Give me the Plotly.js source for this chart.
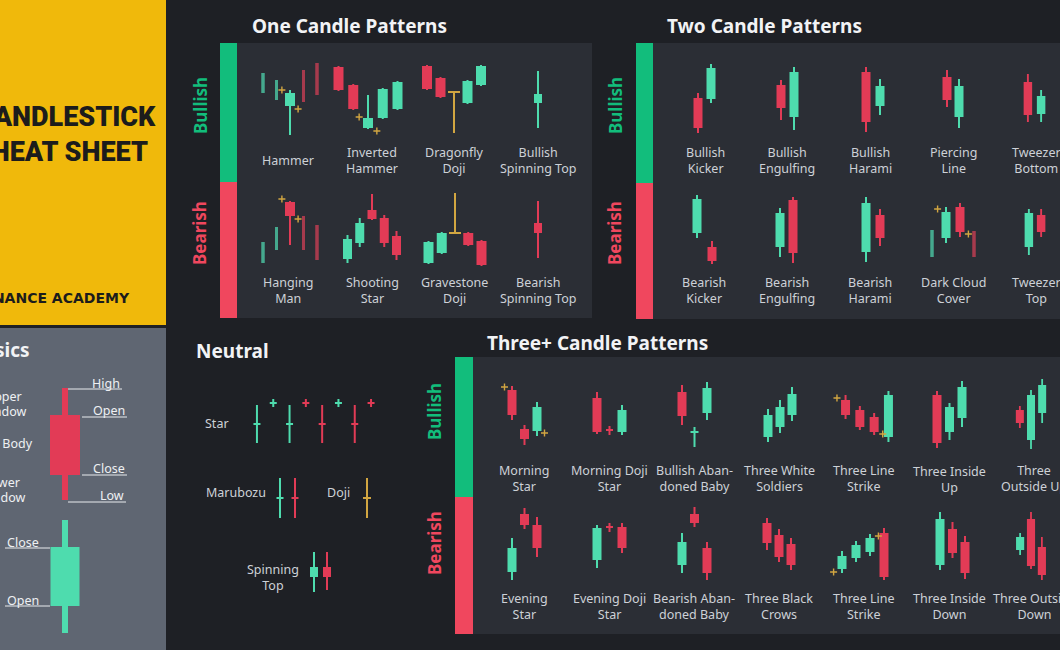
<!DOCTYPE html>
<html><head><meta charset="utf-8">
<script src="https://cdn.plot.ly/plotly-3.0.1.min.js"></script>
<style>html,body{margin:0;padding:0;background:#1e2025;}#chart{width:1060px;height:650px;}</style>
</head><body><div id="chart"></div>
<script>
// ===== DATA =====  each candle: [open, high, low, close, kind]
// kind: 'n' normal (default), 't' thin context candle, 'dy' yellow doji, 'dr' red doji, 'dg' green doji
// marks: [candle index, side (-1 left / +1 right), price]
const hammer = [[47,67,47,67,'t'],[40,60,40,60,'t'],[34,50,5,47],[70,70,38,38,'t'],[77,77,45,45,'t']];
const hammerMarks = [[2,-1,50],[2,1,31]];
const invertedHammer = [[73,74,49,50],[55,56,30,31],[12,45,11,22],[22,52,21,51],[31,59,30,58]];
const invertedHammerMarks = [[2,-1,23],[2,1,9]];
const dragonflyDoji = [[74,75,50,51],[62,63,42,43],[48,48,7,48,'dy'],[37,60,36,59],[55,75,54,74]];
const bullishSpinningTop = [[37,69,12,46]];
const hangingMan = [[7,28,7,28,'t'],[20,43,20,43,'t'],[68,69,25,54],[54,54,20,20,'t'],[45,45,10,10,'t']];
const hangingManMarks = [[2,-1,71],[2,1,51]];
const shootingStar = [[11,35,7,31],[27,52,23,47],[60,76,50,51],[52,55,23,27],[34,39,10,15]];
const gravestoneDoji = [[7,29,6,28],[17,38,16,37],[37,77,37,37,'dy'],[37,38,24,25],[29,30,4,5]];
const bearishSpinningTop = [[47,69,12,37]];

const bullishKicker = [[42,47,7,12],[41,76,37,72]];
const bullishEngulfing = [[55,60,20,32],[23,73,10,68]];
const bullishHarami = [[68,73,8,18],[34,61,25,54]];
const piercingLine = [[63,70,33,40],[23,61,12,54]];
const tweezerBottom = [[58,66,18,25],[26,50,18,44]];
const bearishKicker = [[37,75,32,71],[23,29,6,9]];
const bearishEngulfing = [[23,62,13,57],[70,73,7,17]];
const bearishHarami = [[18,73,8,67],[55,61,24,32]];
const darkCloudCover = [[13,40,13,40,'t'],[32,63,27,58],[63,67,33,38],[39,39,13,13,'t']];
const darkCloudCoverMarks = [[1,-1,61],[2,1,36]];
const tweezerTop = [[23,61,15,57],[55,61,33,38]];

const morningStar = [[65,69,35,40],[26,30,10,16],[24,53,19,48]];
const morningStarMarks = [[0,-1,68],[2,1,22]];
const morningDojiStar = [[57,63,21,23],[25,29,20,25,'dr'],[23,50,20,45]];
const bullishAbandonedBaby = [[63,70,30,39],[23,28,8,23,'dg'],[42,73,35,67]];
const threeWhiteSoldiers = [[18,46,13,40],[28,55,22,48],[40,68,34,61]];
const threeLineStrikeBull = [[55,60,36,40],[45,49,25,28],[38,42,20,23],[18,64,13,60]];
const threeLineStrikeBullMarks = [[0,-1,57],[2,1,21]];
const threeInsideUp = [[60,64,7,12],[23,52,15,48],[37,74,28,68]];
const threeOutsideUp = [[45,49,27,32],[15,65,6,60],[42,76,32,70]];
const eveningStar = [[13,47,5,37],[71,77,56,60],[60,68,28,37]];
const eveningDojiStar = [[25,60,17,57],[58,62,53,58,'dr'],[58,62,32,37]];
const bearishAbandonedBaby = [[20,52,12,43],[71,78,58,62],[37,43,5,12]];
const threeBlackCrows = [[62,67,35,42],[50,56,23,28],[41,47,15,20]];
const threeLineStrikeBear = [[16,34,12,29],[27,44,23,40],[33,51,29,47],[52,57,5,8]];
const threeLineStrikeBearMarks = [[0,-1,13],[2,1,49]];
const threeInsideDown = [[20,73,15,66],[56,63,27,32],[43,49,6,12]];
const threeOutsideDown = [[35,52,30,48],[66,73,16,19],[38,48,5,10]];

const starPattern = [[30,50,12,32],[52,56,48,52,'dg'],[30,50,12,32],[52,56,48,52,'dr'],[32,50,12,30],[52,56,48,52,'dg'],[32,50,12,30],[52,56,48,52,'dr']];
const marubozu = [[26,47,7,28],[28,47,7,26]];
const dojiPattern = [[27,47,7,27,'dy']];
const spinningTop = [[23,48,8,33],[33,48,10,23]];
const basicsBearish = [[95,122,10,35]];
const basicsBullish = [[34,120,7,93]];

// ===== STYLE / LAYOUT =====
const W = 1060, H = 650;
const px = x => x / W, py = y => 1 - y / H;
const GREEN = '#4edcae', RED = '#e23b56', YEL = '#d2a641';
const GREEN_DIM = '#45a98e', RED_DIM = '#a73a4d';
const BAR_G = '#12bd7c', BAR_R = '#f0475e';
const TXT = '#cdd1d7';
const FONT = 'Noto Sans';

const placements = [
  {d:hammer, m:hammerMarks, cx:290, bottom:140, sp:13.5, body:10, label:'Hammer', lx:288, ly:161},
  {d:invertedHammer, m:invertedHammerMarks, cx:368, bottom:140, sp:14.75, body:10, label:'Inverted<br>Hammer', lx:372, ly:160},
  {d:dragonflyDoji, cx:454, bottom:140, sp:13.5, body:10, doji:12, label:'Dragonfly<br>Doji', lx:454, ly:160},
  {d:bullishSpinningTop, cx:538, bottom:140, sp:13, body:8, label:'Bullish<br>Spinning Top', lx:538, ly:160},
  {d:hangingMan, m:hangingManMarks, cx:290, bottom:270, sp:13.5, body:10, label:'Hanging<br>Man', lx:288, ly:291},
  {d:shootingStar, cx:372, bottom:270, sp:12.25, body:9, label:'Shooting<br>Star', lx:372, ly:291},
  {d:gravestoneDoji, cx:455, bottom:270, sp:13.25, body:10, doji:12, label:'Gravestone<br>Doji', lx:454, ly:291},
  {d:bearishSpinningTop, cx:538, bottom:270, sp:13, body:8, label:'Bearish<br>Spinning Top', lx:538, ly:291},

  {d:bullishKicker, cx:704.5, bottom:140, sp:13, body:9, label:'Bullish<br>Kicker', lx:705, ly:160},
  {d:bullishEngulfing, cx:787.5, bottom:140, sp:13, body:9, label:'Bullish<br>Engulfing', lx:787, ly:160},
  {d:bullishHarami, cx:873, bottom:140, sp:14, body:9, label:'Bullish<br>Harami', lx:870, ly:160},
  {d:piercingLine, cx:953, bottom:140, sp:12, body:9, label:'Piercing<br>Line', lx:953, ly:160},
  {d:tweezerBottom, cx:1036, bottom:140, sp:14, body:9, label:'Tweezer<br>Bottom', lx:1036, ly:160},
  {d:bearishKicker, cx:704.5, bottom:270, sp:15, body:9, label:'Bearish<br>Kicker', lx:704, ly:291},
  {d:bearishEngulfing, cx:786.5, bottom:270, sp:13, body:9, label:'Bearish<br>Engulfing', lx:787, ly:291},
  {d:bearishHarami, cx:873, bottom:270, sp:14, body:9, label:'Bearish<br>Harami', lx:870, ly:291},
  {d:darkCloudCover, m:darkCloudCoverMarks, cx:953, bottom:270, sp:14, body:9, label:'Dark Cloud<br>Cover', lx:953, ly:291},
  {d:tweezerTop, cx:1036.5, bottom:270, sp:13, body:9, label:'Tweezer<br>Top', lx:1036, ly:291},

  {d:morningStar, m:morningStarMarks, cx:524.5, bottom:455, sp:12.5, body:9, label:'Morning<br>Star', lx:524, ly:478},
  {d:morningDojiStar, cx:609.5, bottom:455, sp:12.5, body:9, doji:7, label:'Morning Doji<br>Star', lx:609, ly:478},
  {d:bullishAbandonedBaby, cx:694.5, bottom:455, sp:12.5, body:9, doji:8, label:'Bullish Aban-<br>doned Baby', lx:694, ly:478},
  {d:threeWhiteSoldiers, cx:780, bottom:455, sp:12, body:9, label:'Three White<br>Soldiers', lx:779, ly:478},
  {d:threeLineStrikeBull, m:threeLineStrikeBullMarks, cx:867, bottom:455, sp:14.3, body:9, label:'Three Line<br>Strike', lx:864, ly:478},
  {d:threeInsideUp, cx:949.5, bottom:455, sp:12.5, body:9, label:'Three Inside<br>Up', lx:949, ly:479},
  {d:threeOutsideUp, cx:1034.5, bottom:455, sp:12.5, body:9, label:'Three<br>Outside Up', lx:1034, ly:478},
  {d:eveningStar, cx:524.5, bottom:585, sp:12.5, body:9, label:'Evening<br>Star', lx:524, ly:606},
  {d:eveningDojiStar, cx:609.5, bottom:585, sp:12.5, body:9, doji:7, label:'Evening Doji<br>Star', lx:609, ly:606},
  {d:bearishAbandonedBaby, cx:694.5, bottom:585, sp:12.5, body:9, label:'Bearish Aban-<br>doned Baby', lx:694, ly:606},
  {d:threeBlackCrows, cx:779, bottom:585, sp:12, body:9, label:'Three Black<br>Crows', lx:779, ly:606},
  {d:threeLineStrikeBear, m:threeLineStrikeBearMarks, cx:863, bottom:585, sp:14, body:9, label:'Three Line<br>Strike', lx:864, ly:606},
  {d:threeInsideDown, cx:952.5, bottom:585, sp:12.5, body:9, label:'Three Inside<br>Down', lx:949, ly:606},
  {d:threeOutsideDown, cx:1034, bottom:585, sp:12, body:9, label:'Three Outside<br>Down', lx:1034, ly:606},

  {d:starPattern, cx:314, bottom:455, sp:16.3, body:7, doji:7},
  {d:marubozu, cx:287.5, bottom:525, sp:15, body:7},
  {d:dojiPattern, cx:367, bottom:525, sp:13, body:7, doji:8},
  {d:spinningTop, cx:320.5, bottom:600, sp:13, body:8},
  {d:basicsBearish, cx:65, bottom:510, sp:13, body:30, wick:6, band:130},
  {d:basicsBullish, cx:65, bottom:640, sp:13, body:29, wick:6, band:130}
];

const traces = [];
const annotations = [];
const layout = {
  width: W, height: H, margin:{l:0,r:0,t:0,b:0},
  paper_bgcolor:'#1e2025', plot_bgcolor:'rgba(0,0,0,0)',
  showlegend:false, barmode:'overlay', hovermode:false,
  shapes:[], annotations
};

placements.forEach((p,k)=>{
  const id = k===0 ? '' : String(k+1);
  const xa = 'x'+id, ya = 'y'+id;
  const n = p.d.length;
  const halfW = ((n-1)/2)*p.sp + 20;
  const hb = p.band || 85;
  layout['xaxis'+id] = {domain:[px(p.cx-halfW), px(p.cx+halfW)], range:[-halfW/p.sp, halfW/p.sp], visible:false, fixedrange:true, anchor:ya};
  layout['yaxis'+id] = {domain:[py(p.bottom), py(p.bottom-hb)], range:[0,hb], visible:false, fixedrange:true, anchor:xa};
  const pos = i => i-(n-1)/2;
  const xs=[], wBase=[], wH=[], wW=[], wC=[], bBase=[], bH=[], bW=[], bC=[];
  p.d.forEach((c,i)=>{
    const [o,h,l,cl] = c; const kind = c[4] || 'n';
    let col, bw, base, ht, ww = (p.wick||2);
    if (kind[0]==='d') {
      col = kind==='dy' ? YEL : kind==='dr' ? RED : GREEN;
      bw = p.doji || (p.body+2); base = o-1; ht = 2;
    } else if (kind==='t') {
      col = cl>=o ? GREEN_DIM : RED_DIM; bw = 3; ww = 3;
      base = Math.min(o,cl); ht = Math.max(Math.abs(cl-o),2);
    } else {
      col = cl>=o ? GREEN : RED; bw = p.body;
      base = Math.min(o,cl); ht = Math.max(Math.abs(cl-o),2);
    }
    xs.push(pos(i));
    wBase.push(l); wH.push(h-l); wW.push(ww/p.sp); wC.push(col);
    bBase.push(base); bH.push(ht); bW.push(bw/p.sp); bC.push(col);
  });
  traces.push({type:'bar', x:xs, y:wH, base:wBase, width:wW, marker:{color:wC, line:{width:0}}, xaxis:xa, yaxis:ya, hoverinfo:'skip'});
  traces.push({type:'bar', x:xs, y:bH, base:bBase, width:bW, marker:{color:bC, line:{width:0}}, xaxis:xa, yaxis:ya, hoverinfo:'skip'});
  if (p.m) {
    traces.push({type:'scatter', mode:'markers', x:p.m.map(m=>pos(m[0])+m[1]*0.6), y:p.m.map(m=>m[2]),
      marker:{symbol:'cross-thin', size:5, line:{color:YEL, width:1.4}}, xaxis:xa, yaxis:ya, hoverinfo:'skip'});
  }
  if (p.label) {
    annotations.push({xref:'paper', yref:'paper', x:px(p.lx), y:py(p.ly), text:p.label, showarrow:false,
      xanchor:'center', yanchor:'middle', align:'center', font:{family:FONT, size:12.5, color:TXT}});
  }
});

// background shapes
const rect = (x0,y0,x1,y1,color)=>({type:'rect', xref:'paper', yref:'paper', x0:px(x0), x1:px(x1), y0:py(y1), y1:py(y0), fillcolor:color, line:{width:0}, layer:'below'});
const line = (x0,y0,x1,y1)=>({type:'line', xref:'paper', yref:'paper', x0:px(x0), x1:px(x1), y0:py(y0), y1:py(y1), line:{color:'#e9ebee', width:1}, layer:'above'});
layout.shapes.push(
  rect(0,0,166,325,'#f0b90b'),
  rect(0,328,166,650,'#5f6672'),
  rect(237,43,592,318,'#2b2e35'),
  rect(653,43,1060,319,'#2b2e35'),
  rect(473,357,1060,634,'#2b2e35'),
  rect(220,43,237,182,BAR_G), rect(220,182,237,318,BAR_R),
  rect(636,43,653,183,BAR_G), rect(636,183,653,319,BAR_R),
  rect(455,357,473,497,BAR_G), rect(455,497,473,634,BAR_R),
  line(68,389,122,389), line(82,417,127,417), line(82,475,127,475), line(68,502,126,502),
  line(5,548,50,548), line(5,606,50,606)
);

const ann = (x,y,text,opt)=>annotations.push(Object.assign({xref:'paper', yref:'paper', x:px(x), y:py(y), text, showarrow:false, xanchor:'left', yanchor:'middle'}, opt));
const TITLE = {family:FONT, size:19, color:'#f2f3f5'};
ann(250,26,'<b>One Candle Patterns</b>',{font:TITLE});
ann(665,26,'<b>Two Candle Patterns</b>',{font:TITLE});
ann(194,351,'<b>Neutral</b>',{font:TITLE});
ann(485,343,'<b>Three+ Candle Patterns</b>',{font:TITLE});
ann(32,350,'<b>Basics</b>',{xanchor:'right', font:TITLE});

const SIDE_G = {family:FONT, size:17, color:BAR_G}, SIDE_R = {family:FONT, size:17, color:BAR_R};
[[200,106,233],[615,106,233],[434,412,543]].forEach(([x,yb,yr])=>{
  ann(x,yb,'<b>Bullish</b>',{xanchor:'center', textangle:-90, font:SIDE_G});
  ann(x,yr,'<b>Bearish</b>',{xanchor:'center', textangle:-90, font:SIDE_R});
});

// yellow panel
const HEAD = {family:'Roboto', size:27, color:'#1c1c1c', weight:900};
ann(158,117,'CANDLESTICK',{xanchor:'right', font:HEAD});
ann(150,152,'CHEAT SHEET',{xanchor:'right', font:HEAD});
ann(132,298,'<b>BINANCE ACADEMY</b>',{xanchor:'right', font:{family:'DejaVu Sans', size:14, color:'#1c1c1c'}});

// neutral labels
const NL = {family:FONT, size:12.5, color:TXT};
ann(217,424,'Star',{xanchor:'center', font:NL});
ann(236,492,'Marubozu',{xanchor:'center', font:NL});
ann(338,493,'Doji',{xanchor:'center', font:NL});
ann(273,577,'Spinning<br>Top',{xanchor:'center', font:NL});

// basics labels
const BL = {family:FONT, size:12.5, color:'#eef0f3'};
ann(122,383,'High',{xanchor:'right', font:BL});
ann(127,410,'Open',{xanchor:'right', font:BL});
ann(127,468,'Close',{xanchor:'right', font:BL});
ann(126,495,'Low',{xanchor:'right', font:BL});
ann(5,542,'Close',{font:BL});
ann(5,600,'Open',{font:BL});
ann(24,396,'Upper',{xanchor:'right', font:BL});
ann(29,411,'Shadow',{xanchor:'right', font:BL});
ann(35,444,'Real Body',{xanchor:'right', font:BL});
ann(22,482,'Lower',{xanchor:'right', font:BL});
ann(28,497,'Shadow',{xanchor:'right', font:BL});

Plotly.newPlot('chart', traces, layout, {staticPlot:true, displayModeBar:false});
</script></body></html>
